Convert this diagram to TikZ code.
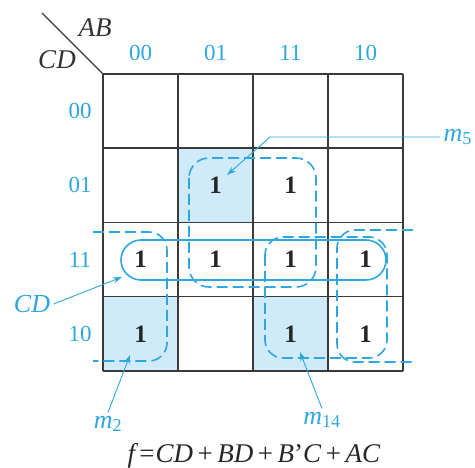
\documentclass[tikz,border=0pt]{standalone}
\usepackage{fontspec}
\setmainfont{Liberation Serif}
\usetikzlibrary{arrows.meta, positioning, calc}
\definecolor{kblue}{HTML}{2EA6E0}
\definecolor{kfill}{HTML}{CFEAF9}
\definecolor{kline}{HTML}{3A3A3A}
\tikzset{
  one/.style={font=\fontsize{25}{25}\selectfont\bfseries, text=black!85},
  code/.style={font=\fontsize{23}{23}\selectfont, text=kblue},
  var/.style={font=\fontsize{27}{27}\selectfont\itshape, text=black!80},
  lbl/.style={font=\fontsize{26}{26}\selectfont\itshape, text=kblue},
  group/.style={draw=kblue, line width=1.6pt, dash pattern=on 11pt off 5pt},
  pointer/.style={draw=kblue, line width=0.9pt, -{Stealth[length=9pt,width=6pt]}},
}

\begin{document}
\begin{tikzpicture}[x=1pt, y=-1pt]
  \useasboundingbox (0,0) rectangle (475,468);
  % shaded minterms
  \foreach \c/\r in {1/1,0/3,2/3}{
    \fill[kfill] (103+75*\c,74+74.25*\r) rectangle ++(75,74.25);
  }
  % map grid
  \foreach \i in {0,...,4}{
    \draw[kline, line width=1.5pt] (103+75*\i,74) -- (103+75*\i,371);
    \draw[kline, line width=1.5pt] (103,74+74.25*\i) -- (403,74+74.25*\i);
  }
  \coordinate (corner) at (103,74);
  \coordinate (tail) at (42,13);
  \draw[kline, line width=1.2pt] (tail) -- (corner);
  \node[var] (ab) at (95,28) {AB};
  \node[var] (cd) at (57,60) {CD};
  \foreach \g [count=\i from 0] in {00,01,11,10}{
    \node[code] (col\g) at (140.5+75*\i,53) {\g};
    \node[code] (row\g) at (80,111+74.25*\i) {\g};
  }
  % ones
  \foreach \c/\r in {1/1,2/1,0/2,1/2,2/2,3/2,0/3,2/3,3/3}{
    \node[one] (c\c\r) at (140.5+75*\c,111+74.25*\r) {1};
  }
  % groups
  \draw[kblue, line width=1.6pt, rounded corners=20pt] (121,240) rectangle (386,280);
  \draw[group, rounded corners=20pt] (189,158) rectangle (316,287);
  \draw[group, rounded corners=18pt] (265,237) rectangle (387,358);
  \draw[group, rounded corners=18pt] (93,232) -- (167,232) -- (167,361) -- (93,361);
  \draw[group, rounded corners=18pt] (413,230) -- (337,230) -- (337,362) -- (413,362);
  % pointers
  \node[lbl, anchor=west] (m5) at (440,137) {m\textsubscript{\upshape 5}};
  \coordinate (m5kink) at (270,137);
  \coordinate (m5tip) at (227,175);
  \draw[pointer] (m5.west) -- (m5kink) -- (m5tip);
  \node[lbl] (cdlab) at (32,304) {CD};
  \coordinate (cdtip) at (122,277);
  \draw[pointer] (cdlab.east) -- (cdtip);
  \node[lbl] (m2) at (108,424) {m\textsubscript{\upshape 2}};
  \coordinate (m2tip) at (130,355);
  \draw[pointer] (m2.north) -- (m2tip);
  \node[lbl] (m14) at (322,420) {m\textsubscript{\upshape 14}};
  \coordinate (m14tip) at (300,352);
  \draw[pointer] (m14.north) -- (m14tip);
  \node[font=\fontsize{27}{27}\selectfont, text=black!85] (f) at (254,456)
    {\textit{f}\kern1pt=\kern1pt\textit{CD}\,+\,\textit{BD}\,+\,\textit{B}\/'\textit{C}\,+\,\textit{AC}};
\end{tikzpicture}
\end{document}
